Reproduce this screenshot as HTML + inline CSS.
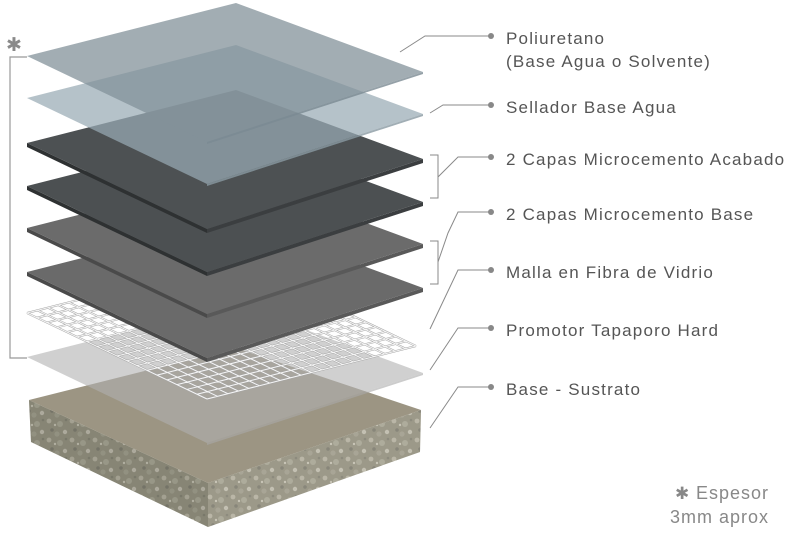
<!DOCTYPE html>
<html><head><meta charset="utf-8"><style>
html,body{margin:0;padding:0;background:#fff;}
svg{display:block;}
text{font-family:"Liberation Sans",sans-serif;fill:#555;font-size:17px;letter-spacing:1.2px;}
</style></head><body>
<svg width="800" height="540" viewBox="0 0 800 540" xmlns="http://www.w3.org/2000/svg">
<defs>
<pattern id="stone" width="23" height="19" patternUnits="userSpaceOnUse">
<rect width="23" height="19" fill="#8f8d7c"/>
<circle cx="3" cy="3" r="2.4" fill="#b4b1a2"/>
<circle cx="14" cy="6" r="3" fill="#a6a494"/>
<circle cx="6" cy="12" r="1.8" fill="#76756a"/>
<circle cx="19" cy="14" r="2.2" fill="#c0bdb0"/>
<circle cx="11" cy="16" r="2.6" fill="#9e9c8c"/>
<circle cx="20" cy="2" r="1.3" fill="#7c7b6e"/>
<circle cx="9" cy="7" r="1.2" fill="#c6c3b6"/>
</pattern>
</defs>

<polygon points="29,400 208,483 208,527 31,442" fill="url(#stone)"/>
<polygon points="29,400 208,483 208,527 31,442" fill="#6f6e60" opacity="0.25"/>
<polygon points="208,483 421,410 420,452 208,527" fill="url(#stone)"/>
<polygon points="208,483 421,410 420,452 208,527" fill="#d0ccbc" opacity="0.2"/>
<polygon points="29,400 236,348 421,410 208,483" fill="#9c9583"/>

<polygon points="27,357 236,304 423,373 207,443" fill="#b0b0b0" opacity="0.6"/>
<polygon points="207,443 423,373 423,375 207,445" fill="#aaa" opacity="0.6"/>

<g transform="matrix(209,-53,180,86,27,313)" fill="none" stroke="#a5a5a5" stroke-width="2" vector-effect="non-scaling-stroke">
<g id="grid">
<path vector-effect="non-scaling-stroke" d="M0,0H1M0,.0556H1M0,.1111H1M0,.1667H1M0,.2222H1M0,.2778H1M0,.3333H1M0,.3889H1M0,.4444H1M0,.5H1M0,.5556H1M0,.6111H1M0,.6667H1M0,.7222H1M0,.7778H1M0,.8333H1M0,.8889H1M0,.9444H1M0,1H1M0,0V1M.05,0V1M.1,0V1M.15,0V1M.2,0V1M.25,0V1M.3,0V1M.35,0V1M.4,0V1M.45,0V1M.5,0V1M.55,0V1M.6,0V1M.65,0V1M.7,0V1M.75,0V1M.8,0V1M.85,0V1M.9,0V1M.95,0V1M1,0V1"/>
</g>
<use href="#grid" stroke="#f6f6f6" stroke-width="1"/>
</g>

<polygon points="27,272 207,358 207,362 27,276" fill="#4a4a4a"/>
<polygon points="207,358 423,288 423,292 207,362" fill="#595959"/>
<polygon points="27,272 236,219 423,288 207,358" fill="#6a6a6a"/>
<polygon points="27,228 207,314 207,318 27,232" fill="#4a4a4a"/>
<polygon points="207,314 423,244 423,248 207,318" fill="#595959"/>
<polygon points="27,228 236,175 423,244 207,314" fill="#6b6b6b"/>
<polygon points="27,186 207,272 207,276 27,190" fill="#2e3132"/>
<polygon points="207,272 423,202 423,206 207,276" fill="#3b3e40"/>
<polygon points="27,186 236,133 423,202 207,272" fill="#4c5052"/>
<polygon points="27,143 207,229 207,233 27,147" fill="#2e3132"/>
<polygon points="207,229 423,159 423,163 207,233" fill="#3b3e40"/>
<polygon points="27,143 236,90 423,159 207,229" fill="#4d5153"/>
<polygon points="27,98 236,45 423,114 207,184" fill="#99aab4" opacity="0.72"/>
<polygon points="207,184 423,114 423,116 207,186" fill="#8a9aa3" opacity="0.8"/>
<polygon points="27,56 236,3 423,72 207,142" fill="#83929a" opacity="0.75"/>
<polygon points="207,142 423,72 423,74 207,144" fill="#7a8a92" opacity="0.8"/>

<text x="6" y="51" style="font-family:'DejaVu Sans',sans-serif;font-size:19px;fill:#8a8a8a;letter-spacing:0">✱</text>
<polyline points="27,57 10,57 10,358 27,358" fill="none" stroke="#999" stroke-width="1.2"/>

<g fill="none" stroke="#8a8a8a" stroke-width="1">
<polyline points="400,52 425,36 490,36"/>
<polyline points="430,113 443,105 490,105"/>
<polyline points="430,155 438,155 438,198 430,198"/>
<polyline points="438,177 458,157 490,157"/>
<polyline points="430,241 438,241 438,284 430,284"/>
<polyline points="438,262 448,233 458,212 490,212"/>
<polyline points="430,329 458,270 490,270"/>
<polyline points="430,370 458,328 490,328"/>
<polyline points="430,428 458,387 490,387"/>
</g>
<g fill="#888">
<circle cx="491" cy="36" r="3"/>
<circle cx="491" cy="105" r="3"/>
<circle cx="491" cy="157" r="3"/>
<circle cx="491" cy="212" r="3"/>
<circle cx="491" cy="270" r="3"/>
<circle cx="491" cy="328" r="3"/>
<circle cx="491" cy="387" r="3"/>
</g>
<text x="506" y="44">Poliuretano</text>
<text x="506" y="67">(Base Agua o Solvente)</text>
<text x="506" y="113">Sellador Base Agua</text>
<text x="506" y="165">2 Capas Microcemento Acabado</text>
<text x="506" y="220">2 Capas Microcemento Base</text>
<text x="506" y="278">Malla en Fibra de Vidrio</text>
<text x="506" y="336">Promotor Tapaporo Hard</text>
<text x="506" y="395">Base - Sustrato</text>

<text x="675" y="499" style="font-family:'DejaVu Sans',sans-serif;font-size:17px;fill:#888;letter-spacing:0">✱</text>
<text x="769" y="499" text-anchor="end" style="fill:#888;font-size:18px;letter-spacing:1px">Espesor</text>
<text x="769" y="523" text-anchor="end" style="fill:#888;font-size:18px;letter-spacing:1px">3mm aprox</text>
</svg>
</body></html>
